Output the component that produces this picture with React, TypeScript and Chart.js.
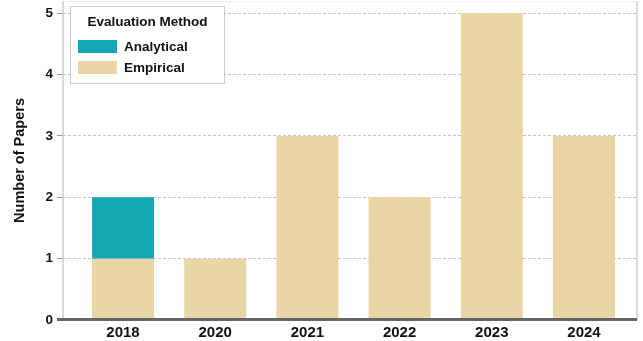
import React, { useEffect, useRef } from "react";
import { Chart, registerables } from "chart.js";

Chart.register(...registerables);

const years = ["2018", "2020", "2021", "2022", "2023", "2024"];
const empirical = [1, 1, 3, 2, 5, 3];
const analytical = [1, 0, 0, 0, 0, 0];
const yTicks = [0, 1, 2, 3, 4, 5];
const legendTitle = "Evaluation Method";

const TEAL = "#12a9b5";
const BEIGE = "#e9d6a4";
const FONT = "'Liberation Sans', Arial, sans-serif";

const frame = {
  id: "frame",
  afterDatasetsDraw(chart: any) {
    const { ctx, chartArea: a } = chart;
    ctx.save();
    ctx.strokeStyle = "#dddddd";
    ctx.lineWidth = 2;
    ctx.beginPath();
    ctx.moveTo(a.right, a.top);
    ctx.lineTo(a.right, a.bottom);
    ctx.stroke();
    ctx.strokeStyle = "#eeeeee";
    ctx.lineWidth = 1;
    ctx.beginPath();
    ctx.moveTo(a.left, a.top + 0.5);
    ctx.lineTo(a.right, a.top + 0.5);
    ctx.stroke();
    ctx.strokeStyle = "#cccccc";
    ctx.lineWidth = 1.5;
    ctx.beginPath();
    ctx.moveTo(a.left, a.top);
    ctx.lineTo(a.left, a.bottom);
    ctx.stroke();
    ctx.strokeStyle = "#666666";
    ctx.lineWidth = 3;
    ctx.beginPath();
    ctx.moveTo(a.left - 6, a.bottom - 0.5);
    ctx.lineTo(a.right, a.bottom - 0.5);
    ctx.stroke();
    ctx.restore();
  },
};

const boxLegend = {
  id: "boxLegend",
  afterDraw(chart: any) {
    const { ctx } = chart;
    const items = [...chart.data.datasets].reverse();
    const x = 70, y = 6, w = 154, h = 77;
    ctx.save();
    ctx.fillStyle = "#ffffff";
    ctx.fillRect(x, y, w, h);
    ctx.strokeStyle = "#cccccc";
    ctx.lineWidth = 1;
    ctx.strokeRect(x + 0.5, y + 0.5, w, h);
    ctx.fillStyle = "#111111";
    ctx.font = `bold 13.5px ${FONT}`;
    ctx.textAlign = "center";
    ctx.textBaseline = "middle";
    ctx.fillText(legendTitle, x + w / 2 + 0.5, 22);
    ctx.textAlign = "left";
    items.forEach((ds: any, i: number) => {
      const iy = 40 + i * 21;
      ctx.fillStyle = ds.backgroundColor;
      ctx.fillRect(78, iy, 39, 13);
      ctx.fillStyle = "#111111";
      ctx.fillText(ds.label, 124, iy + 7);
    });
    ctx.restore();
  },
};

export default function App() {
  const ref = useRef<HTMLCanvasElement>(null);
  useEffect(() => {
    if (!ref.current) return;
    const chart = new Chart(ref.current, {
      type: "bar",
      data: {
        datasets: [
          {
            label: "Empirical",
            data: empirical.map((v, i) => ({ x: i, y: v })),
            backgroundColor: BEIGE,
            borderWidth: 0,
            categoryPercentage: 1,
            barPercentage: 0.672,
          },
          {
            label: "Analytical",
            data: analytical.map((v, i) => ({ x: i, y: v })),
            backgroundColor: TEAL,
            borderWidth: 0,
            categoryPercentage: 1,
            barPercentage: 0.672,
          },
        ],
      },
      options: {
        animation: false,
        responsive: false,
        events: [],
        layout: { padding: { top: 1, right: 6, left: 0, bottom: 0 } },
        plugins: { legend: { display: false }, tooltip: { enabled: false } },
        scales: {
          x: {
            type: "linear",
            stacked: true,
            offset: false,
            min: -0.651,
            max: 5.575,
            afterFit: (s: any) => {
              s.height = 21;
              s.paddingLeft = 0;
              s.paddingRight = 0;
            },
            grid: { display: false, drawTicks: false, offset: false },
            border: { display: false },
            ticks: {
              stepSize: 1,
              includeBounds: false,
              padding: 4,
              color: "#111111",
              font: { family: FONT, size: 15, weight: "bold" },
              callback: (v: any) => (Number.isInteger(v) ? years[v] ?? "" : ""),
              maxRotation: 0,
              autoSkip: false,
            },
          },
          y: {
            stacked: true,
            min: 0,
            max: 5.2,
            afterFit: (s: any) => {
              s.width = 63;
              s.paddingTop = 0;
              s.paddingBottom = 0;
            },
            afterBuildTicks: (s: any) => { s.ticks = yTicks.map((v) => ({ value: v })); },
            border: { display: false, dash: [3, 2] },
            grid: {
              color: "#c4c4c4",
              tickBorderDash: [],
              tickColor: "#999999",
              tickLength: 6,
            } as any,
            ticks: {
              padding: 4,
              color: "#111111",
              font: { family: FONT, size: 13.5, weight: "bold" },
            },
            title: {
              display: true,
              text: "Number of Papers",
              color: "#111111",
              font: { family: FONT, size: 14.5, weight: "bold" },
              padding: { top: 11, bottom: 0 },
            },
          },
        },
      },
      plugins: [frame, boxLegend],
    });
    return () => chart.destroy();
  }, []);
  return (
    <div style={{ position: "fixed", left: 0, top: 0, width: 643, height: 341, background: "#fff" }}>
      <canvas ref={ref} width={643} height={341} style={{ width: 643, height: 341, display: "block" }} />
    </div>
  );
}
